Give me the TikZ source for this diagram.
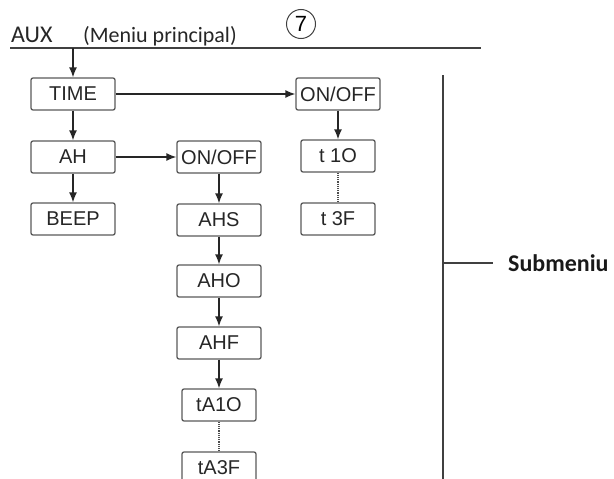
\documentclass[tikz,border=0pt]{standalone}
\usepackage{fontspec}
\setmainfont{Liberation Sans}
\newfontfamily\calfont{Carlito}
\usetikzlibrary{arrows.meta, positioning}

\begin{document}
\begin{tikzpicture}[x=1pt, y=-1pt, >={Latex[length=10pt,width=8pt]},
    menu/.style={draw=black!65, line width=1.3pt, rounded corners=2pt,
      minimum width=84pt, minimum height=32pt, inner sep=0pt,
      font=\fontsize{20}{24}\selectfont, text=black!85},
    narrow/.style={menu, minimum width=74pt},
    link/.style={->, line width=1.5pt, draw=black!85},
    gap/.style={densely dotted, line width=1.2pt, draw=black!70},
    rule/.style={line width=1.5pt, draw=black!75}]
    \useasboundingbox (0,0) rectangle (614,479);

    % main menu header
    \coordinate (barL) at (10,48);
    \coordinate (barR) at (481,48);
    \coordinate (drop) at (73,48);
    \draw[rule] (barL) -- (barR);
    \node[anchor=base west, inner sep=0pt, text=black!85,
      font=\calfont\fontsize{24}{28}\selectfont] (aux) at (11,42) {AUX};
    \node[anchor=base west, inner sep=0pt, text=black!85,
      font=\calfont\fontsize{22}{26}\selectfont] (mainmenu) at (83,42) {(Meniu principal)};
    \node[draw=black!75, line width=1pt, circle, minimum size=29pt, inner sep=0pt,
      font=\fontsize{22}{26}\selectfont] (seven) at (301,24) {7};

    % menu boxes
    \node[menu] (time) at (73, 94) {TIME};
    \node[menu] (ah) at (73, 157) {AH};
    \node[menu] (beep) at (73, 219) {BEEP};
    \node[menu] (ahon) at (219, 157) {ON/OFF};
    \node[menu] (ahs) at (219, 220) {AHS};
    \node[menu] (aho) at (219, 281) {AHO};
    \node[menu] (ahf) at (219, 343) {AHF};
    \node[narrow] (ta1o) at (219, 405) {tA1O};
    \node[narrow] (ta3f) at (219, 468) {tA3F};
    \node[menu] (timeon) at (338, 94) {ON/OFF};
    \node[narrow] (t1o) at (338, 156) {t 1O};
    \node[narrow] (t3f) at (338, 219) {t 3F};

    \draw[link] (drop) -- (time);
    \draw[link] (time) -- (ah);
    \draw[link] (ah) -- (beep);
    \draw[link] (time) -- (timeon);
    \draw[link] (timeon) -- (t1o);
    \draw[link] (ah) -- (ahon);
    \draw[link] (ahon) -- (ahs);
    \draw[link] (ahs) -- (aho);
    \draw[link] (aho) -- (ahf);
    \draw[link] (ahf) -- (ta1o);
    \draw[gap] (t1o) -- (t3f);
    \draw[gap] (ta1o) -- (ta3f);

    % submenu bracket
    \coordinate (subtop) at (443,75);
    \coordinate (subbot) at (443,482);
    \coordinate (subtick) at (443,263);
    \coordinate (tickend) at (493,263);
    \draw[rule] (subtop) -- (subbot);
    \draw[rule] (subtick) -- (tickend);
    \node[anchor=west, inner sep=0pt, text=black!90,
      font=\calfont\bfseries\fontsize{24}{28}\selectfont] (sub) at (508,263) {Submeniu};
\end{tikzpicture}
\end{document}
